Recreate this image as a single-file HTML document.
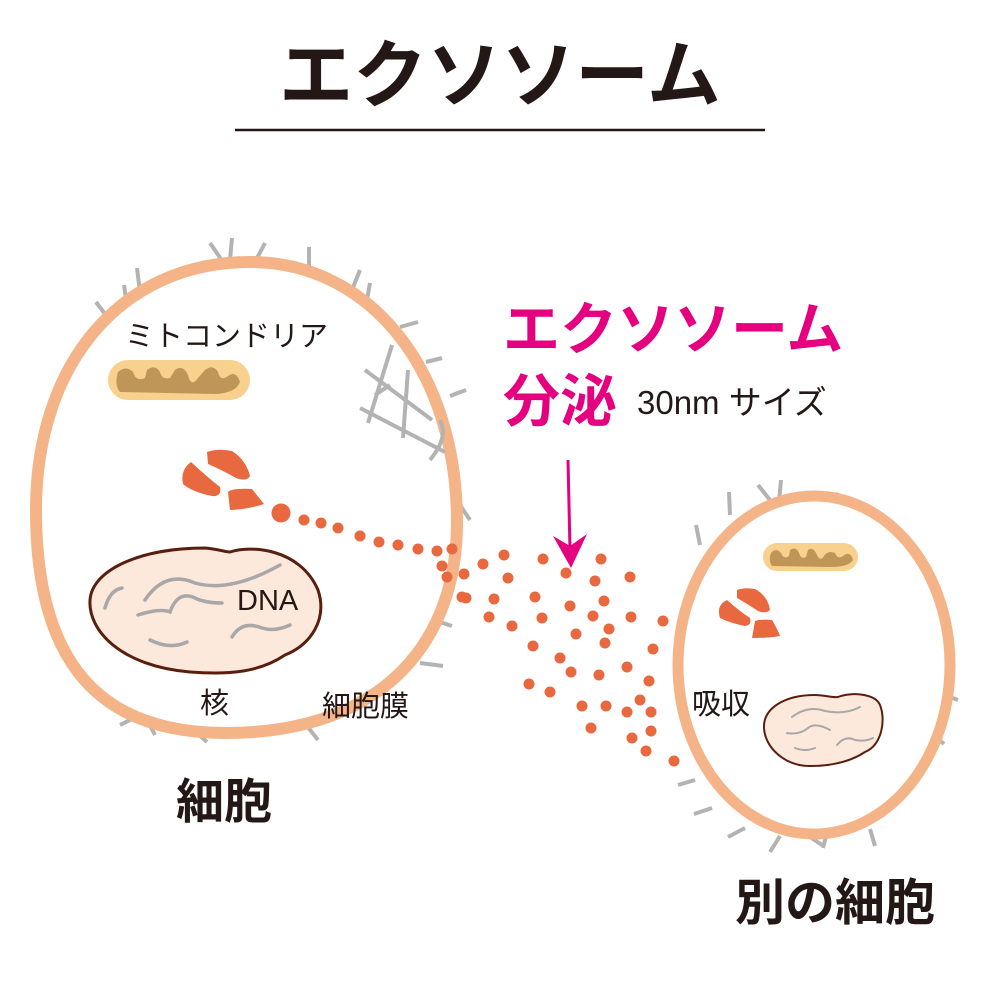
<!DOCTYPE html>
<html><head><meta charset="utf-8"><style>
body{margin:0;background:#fff}
svg{display:block}
text{font-family:"Liberation Sans","Noto Sans CJK JP",sans-serif}
</style></head><body>
<svg width="1000" height="1000" viewBox="0 0 1000 1000" xmlns="http://www.w3.org/2000/svg">
<text x="500" y="101" text-anchor="middle" font-size="74" font-weight="bold" fill="#231815">エクソソーム</text>
<line x1="235" y1="130" x2="765" y2="130" stroke="#231815" stroke-width="2.5"/>

<g stroke="#b3b3b3" stroke-width="4" stroke-linecap="butt">
<line x1="210" y1="243" x2="223" y2="262"/><line x1="232" y1="238" x2="230" y2="260"/><line x1="265" y1="243" x2="256" y2="260"/>
<line x1="309" y1="247" x2="309" y2="268"/><line x1="360" y1="270" x2="352" y2="290"/><line x1="370" y1="283" x2="367" y2="300"/>
<line x1="400" y1="327" x2="418" y2="322"/><line x1="426" y1="362" x2="442" y2="358"/><line x1="450" y1="396" x2="466" y2="390"/>
<line x1="460" y1="505" x2="470" y2="520"/><line x1="440" y1="622" x2="452" y2="626"/><line x1="420" y1="663" x2="443" y2="666"/>
<line x1="137" y1="268" x2="140" y2="292"/><line x1="124" y1="285" x2="127" y2="305"/><line x1="96" y1="302" x2="108" y2="318"/>
<line x1="120" y1="725" x2="136" y2="717"/><line x1="145" y1="716" x2="155" y2="735"/><line x1="190" y1="727" x2="207" y2="742"/><line x1="307" y1="726" x2="318" y2="740"/>
</g>
<path d="M250,262 C370,262 456,370 457,520 C458,640 385,733 225,733 C85,733 36,645 36,510 C36,365 120,262 250,262 Z" fill="#fff" stroke="#f4b488" stroke-width="12"/>
<g stroke="#b3b3b3" stroke-width="4" fill="none">
<line x1="365" y1="370" x2="432" y2="420"/><line x1="360" y1="408" x2="445" y2="452"/>
<line x1="392" y1="345" x2="368" y2="423"/><line x1="408" y1="370" x2="403" y2="438"/>
<path d="M440,420 C448,435 438,450 430,460"/>
<line x1="375" y1="395" x2="390" y2="385"/>
</g>
<rect x="108" y="360" width="142" height="40" rx="20" fill="#f9d18e"/>
<path d="M118,372 Q126,365 133,372 Q136,382 145,378 L147,370 Q155,364 160,372 Q162,380 170,378 L175,370 Q183,364 188,375 Q191,388 198,378 L205,370 Q213,364 218,372 Q220,382 228,376 Q236,370 240,382 Q236,393 215,394 L120,392 Q114,385 118,372 Z" fill="#bf9558"/>
<g fill="#e8693f">
<path d="M191,462 Q206,476 220,487 Q222,497 212,496 Q192,492 183,484 Q180,470 191,462 Z"/>
<path d="M207,452 Q218,448 232,451 Q246,460 250,476 Q247,482 236,478 Q222,470 208,464 Z"/>
<path d="M228,492 Q232,488 252,489 Q260,499 264,504 Q250,509 230,510 Z"/>
</g>
<path d="M230,552 C250,545 300,548 318,590 C328,620 310,645 285,655 C260,672 230,675 190,672 C120,666 88,630 90,600 C92,570 140,548 205,548 C218,549 225,552 230,552 Z" fill="#fde9dc" stroke="#5a1e0e" stroke-width="3"/>
<g stroke="#a8a8a8" stroke-width="3.5" fill="none" stroke-linecap="round">
<path d="M145,600 Q165,570 195,583 Q230,593 280,565"/>
<path d="M105,608 Q110,590 122,588"/>
<path d="M138,615 Q160,608 170,612 Q178,590 195,598 Q205,603 222,603"/>
<path d="M150,640 Q170,650 187,642"/>
<path d="M232,637 Q242,620 262,628 Q275,632 290,625"/>
</g>

<g stroke="#b3b3b3" stroke-width="4">
<line x1="729" y1="492" x2="730" y2="515"/><line x1="758" y1="485" x2="770" y2="500"/><line x1="781" y1="480" x2="779" y2="502"/>
<line x1="838" y1="493" x2="829" y2="507"/><line x1="843" y1="510" x2="858" y2="504"/><line x1="884" y1="550" x2="901" y2="548"/>
<line x1="888" y1="565" x2="905" y2="562"/><line x1="920" y1="588" x2="910" y2="610"/><line x1="910" y1="608" x2="925" y2="610"/>
<line x1="942" y1="694" x2="958" y2="700"/><line x1="930" y1="732" x2="944" y2="744"/><line x1="893" y1="784" x2="906" y2="796"/>
<line x1="870" y1="829" x2="875" y2="846"/><line x1="835" y1="830" x2="850" y2="822"/><line x1="823" y1="848" x2="828" y2="828"/>
<line x1="807" y1="835" x2="822" y2="845"/><line x1="780" y1="836" x2="770" y2="852"/><line x1="728" y1="837" x2="745" y2="828"/>
<line x1="694" y1="814" x2="712" y2="808"/><line x1="678" y1="785" x2="695" y2="780"/><line x1="697" y1="572" x2="712" y2="590"/>
<line x1="696" y1="525" x2="700" y2="545"/>
</g>
<ellipse cx="814" cy="665" rx="136" ry="169" fill="#fff" stroke="#f4b488" stroke-width="11"/>
<rect x="763" y="543" width="95" height="28" rx="14" fill="#f9d18e"/>
<path d="M771,553 Q776,547 781,553 Q784,560 789,556 L790,550 Q796,546 799,553 Q801,560 806,557 L808,550 Q813,546 817,555 Q820,562 824,556 Q828,550 835,553 Q838,560 843,556 Q850,550 853,560 Q849,567 830,567 L772,566 Q768,560 771,553 Z" fill="#bf9558"/>
<g fill="#e8693f">
<path d="M727,600 Q738,610 750,618 Q752,625 745,626 Q730,623 720,618 Q716,605 727,600 Z"/>
<path d="M737,590 Q745,587 755,589 Q768,596 770,610 Q766,614 758,611 Q746,603 737,598 Z"/>
<path d="M755,621 Q760,619 772,620 Q778,630 780,636 Q770,638 752,638 Z"/>
</g>
<path d="M838,697 C850,692 875,693 880,705 C886,720 882,745 865,752 C850,762 830,766 810,766 C785,766 765,748 764,728 C763,708 785,695 815,695 C825,695 832,698 838,697 Z" fill="#fde9dc" stroke="#5a1e0e" stroke-width="2"/>
<g stroke="#a8a8a8" stroke-width="2" fill="none" stroke-linecap="round">
<path d="M792,717 Q808,705 825,711 Q845,715 860,707"/>
<path d="M787,733 Q800,735 808,728 Q815,722 830,730"/>
<path d="M795,748 Q805,752 815,748"/>
<path d="M837,745 Q845,735 855,740 Q865,742 873,738"/>
</g>

<g fill="#e8693f">
<circle cx="281" cy="513" r="9.5"/>
<circle cx="304" cy="520" r="5.5"/><circle cx="321" cy="523" r="5.5"/><circle cx="338" cy="528" r="5.5"/><circle cx="360" cy="536" r="5.5"/><circle cx="379" cy="542" r="5.5"/><circle cx="398" cy="545" r="5.5"/><circle cx="418" cy="549" r="5.5"/><circle cx="437" cy="551" r="5.5"/><circle cx="452" cy="549" r="5.5"/>
<circle cx="442" cy="566" r="5.5"/><circle cx="447" cy="577" r="5.5"/><circle cx="464" cy="574" r="5.5"/><circle cx="483" cy="564" r="5.5"/><circle cx="504" cy="555" r="5.5"/><circle cx="508" cy="578" r="5.5"/><circle cx="543" cy="559" r="5.5"/><circle cx="566" cy="573" r="5.5"/><circle cx="601" cy="559" r="5.5"/><circle cx="595" cy="581" r="5.5"/><circle cx="630" cy="577" r="5.5"/>
<circle cx="462" cy="597" r="5.5"/><circle cx="494" cy="599" r="5.5"/><circle cx="535" cy="597" r="5.5"/><circle cx="570" cy="606" r="5.5"/><circle cx="604" cy="601" r="5.5"/><circle cx="489" cy="617" r="5.5"/><circle cx="512" cy="626" r="5.5"/><circle cx="542" cy="618" r="5.5"/><circle cx="593" cy="616" r="5.5"/><circle cx="631" cy="617" r="5.5"/><circle cx="609" cy="629" r="5.5"/><circle cx="663" cy="621" r="5.5"/><circle cx="576" cy="634" r="5.5"/><circle cx="605" cy="643" r="5.5"/><circle cx="533" cy="646" r="5.5"/><circle cx="653" cy="649" r="5.5"/><circle cx="560" cy="658" r="5.5"/><circle cx="627" cy="667" r="5.5"/><circle cx="571" cy="672" r="5.5"/><circle cx="599" cy="675" r="5.5"/><circle cx="649" cy="681" r="5.5"/><circle cx="529" cy="684" r="5.5"/><circle cx="550" cy="692" r="5.5"/><circle cx="640" cy="700" r="5.5"/><circle cx="582" cy="706" r="5.5"/><circle cx="606" cy="706" r="5.5"/><circle cx="627" cy="712" r="5.5"/><circle cx="651" cy="712" r="5.5"/><circle cx="591" cy="728" r="5.5"/><circle cx="651" cy="731" r="5.5"/><circle cx="632" cy="738" r="5.5"/><circle cx="646" cy="751" r="5.5"/><circle cx="674" cy="761" r="5.5"/><circle cx="466" cy="598" r="5.5"/>
</g>

<line x1="568" y1="460" x2="570" y2="550" stroke="#e4007f" stroke-width="3"/>
<polygon points="553,536 570,546 587,534 571,568" fill="#e4007f"/>

<text x="503" y="349" font-size="57" font-weight="bold" fill="#e4007f">エクソソーム</text>
<text x="503" y="421" font-size="57" font-weight="bold" fill="#e4007f">分泌</text>
<text x="637" y="414" font-size="33" fill="#231815">30nm サイズ</text>
<text x="125" y="346" font-size="29" fill="#231815">ミトコンドリア</text>
<text x="237" y="610" font-size="29" fill="#231815">DNA</text>
<text x="200" y="713" font-size="29" fill="#231815">核</text>
<text x="322" y="716" font-size="29" fill="#231815">細胞膜</text>
<text x="692" y="714" font-size="29" fill="#231815">吸収</text>
<text x="176" y="818" font-size="48" font-weight="bold" fill="#231815">細胞</text>
<text x="735" y="920" font-size="50" font-weight="bold" fill="#231815">別の細胞</text>
</svg>
</body></html>
